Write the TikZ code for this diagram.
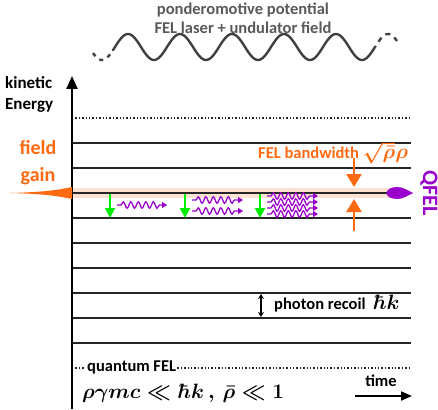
\documentclass[tikz,border=0pt]{standalone}
\usepackage[no-math]{fontspec}
\setmainfont{Carlito}
\usetikzlibrary{arrows.meta,decorations.pathmorphing}
\definecolor{forange}{HTML}{FF6A10}
\definecolor{fpurple}{HTML}{9A00CC}
\definecolor{fgreen}{HTML}{00EE00}
\definecolor{bandc}{HTML}{FCE2D2}
\definecolor{wavegray}{HTML}{404040}
\definecolor{toptext}{HTML}{595959}
\tikzset{
  lbl/.style={font=\fontsize{16.5}{21}\selectfont\bfseries, inner sep=0pt},
  mlbl/.style={font=\fontsize{16.5}{21}\selectfont\bfseries\boldmath, inner sep=0pt},
  level/.style={line width=1.8pt, draw=black!85},
  dotlevel/.style={line width=1.4pt, dotted, draw=black!85},
  greenarrow/.style={draw=fgreen, line width=2pt, -{Triangle[width=10pt,length=10pt]}},
  photon/.style={draw=fpurple, line width=1.3pt, -{Triangle[width=6pt,length=5pt]},
    decorate, decoration={snake, amplitude=3.2pt, segment length=7.5pt, pre length=4pt, post length=6pt}},
  bwarrow/.style={draw=forange, line width=2.5pt, -{Triangle[width=15pt,length=13pt]}},
}
\begin{document}
\begin{tikzpicture}[x=1pt,y=-1pt]
\useasboundingbox (0,0) rectangle (438,409);
% top wave
\node[lbl, text=toptext, align=center, font=\fontsize{16.5}{19}\selectfont\bfseries] (pond) at (243,18) {ponderomotive potential\\FEL laser + undulator field};
\draw[wavegray, line width=2.4pt, line cap=round] plot[domain=113:373, samples=200] (\x, {47-13*cos(6.9231*(\x-128))});
\draw[wavegray, line width=2.4pt, dash pattern=on 4pt off 5pt] plot[domain=93:113, samples=40] (\x, {47-13*cos(6.9231*(\x-128))});
\draw[wavegray, line width=2.4pt, dash pattern=on 5pt off 5pt] plot[domain=373:397, samples=40] (\x, {47-13*cos(6.9231*(\x-128))});
% band
\fill[bandc] (72,188) rectangle (392,198);
% levels
\coordinate (L0) at (72,118); \coordinate (R0) at (411,118);
\draw[dotlevel] (L0) -- (R0);
\foreach \yy in {143,168,193,218,243,268,293,318,343}{
  \draw[level] (72,\yy) -- (411,\yy);
}
% quantum FEL dotted line
\coordinate (qL) at (72,368); \coordinate (qR) at (411,368);
\draw[dotlevel] (qL) -- (qR);
\node[lbl, fill=white, inner sep=1pt, anchor=west] (qfel) at (86,367) {quantum FEL};
% axis
\coordinate (ax0) at (72,409); \coordinate (ax1) at (72,76);
\draw[line width=2.4pt, -{Triangle[width=11pt,length=13pt]}] (ax0) -- (ax1);
% labels
\node[lbl, align=left, anchor=north west, font=\fontsize{17}{21}\selectfont\bfseries] (kin) at (5,76) {kinetic\\Energy};
\node[lbl, align=center, text=forange, font=\fontsize{20}{27}\selectfont\bfseries] (gain) at (38,163) {field\\gain};
% gain wedge
\fill[forange] (10,193) .. controls (50,192) and (62,189) .. (72,187) -- (72,199) .. controls (62,197) and (50,194) .. (10,193) -- cycle;
% green arrows
\foreach \xx/\nm in {110/g1,185/g2,260/g3}{
  \coordinate (\nm a) at (\xx,194); \coordinate (\nm b) at (\xx,218);
  \draw[greenarrow] (\nm a) -- (\nm b);
}
% photons
\draw[photon] (117,205) -- (167,205);
\draw[photon] (192,200) -- (243,200);
\draw[photon] (192,211) -- (243,211);
\foreach \yy in {196,202,208,214}{
  \draw[photon] (267,\yy) -- (318,\yy);
}
% bandwidth arrows
\coordinate (bwa) at (354,158); \coordinate (bwb) at (354,187);
\coordinate (bwc) at (354,231); \coordinate (bwd) at (354,199);
\draw[bwarrow] (bwa) -- (bwb);
\draw[bwarrow] (bwc) -- (bwd);
\node[mlbl, text=forange, anchor=west] (bwlabel) at (258,153) {FEL bandwidth {\fontsize{20}{24}\selectfont$\sqrt{\bar{\rho}}\rho$}};
% QFEL
\fill[fpurple] (397,193) ellipse [x radius=10.5, y radius=6];
\fill[fpurple] (405,189) -- (413,193) -- (405,197) -- cycle;
\node[lbl, text=fpurple, rotate=-90, font=\fontsize{22}{26}\selectfont\bfseries] (qf) at (429,193) {QFEL};
% photon recoil
\coordinate (pr1) at (261,294); \coordinate (pr2) at (261,317);
\draw[line width=1.6pt, {Stealth[width=6pt,length=5pt]}-{Stealth[width=6pt,length=5pt]}] (pr1) -- (pr2);
\node[mlbl, anchor=west] (prl) at (274,304) {photon recoil \ {\fontsize{21}{24}\selectfont$\hbar k$}};
% formula
\node[anchor=west, inner sep=0pt, font=\fontsize{22.5}{26}\selectfont\boldmath] (form) at (82,393) {$\rho\gamma mc \ll \hbar k\,,\,\bar{\rho}\ll 1$};
% time
\node[lbl] (time) at (381,381) {time};
\coordinate (t1) at (355,396); \coordinate (t2) at (412,396);
\draw[line width=1.8pt, -{Triangle[width=9pt,length=11pt]}] (t1) -- (t2);
\end{tikzpicture}
\end{document}
